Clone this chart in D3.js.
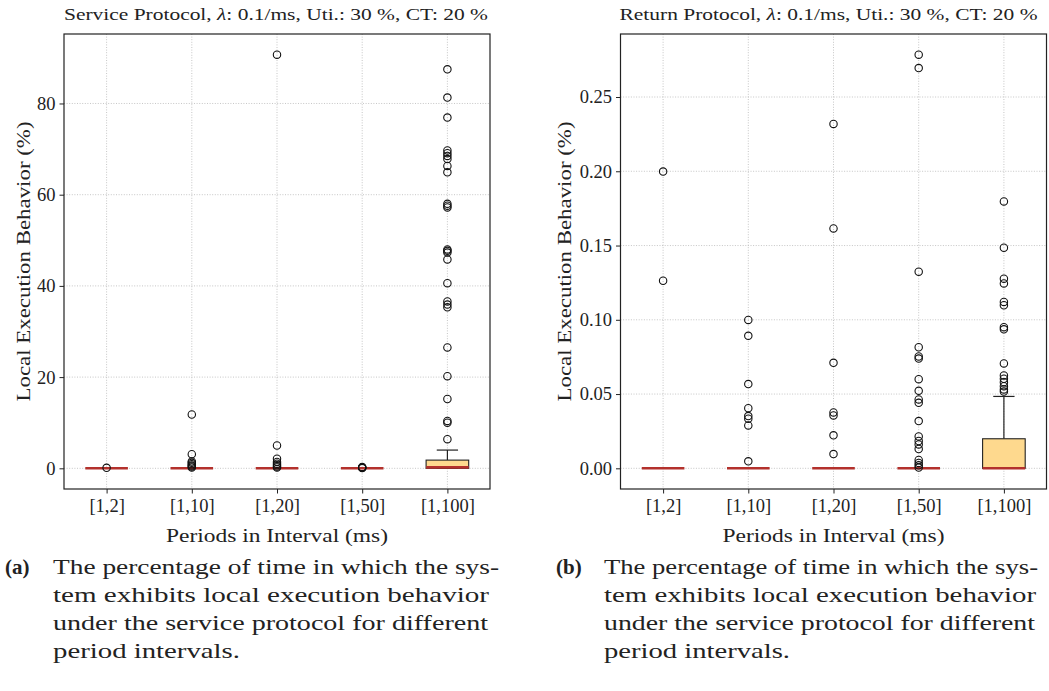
<!DOCTYPE html>
<html>
<head>
<meta charset="utf-8">
<script src="https://cdn.jsdelivr.net/npm/d3@7"></script>
<style>
  body { margin: 0; background: #fff; }
  svg { display: block; }
  text { font-family: "Liberation Serif", "DejaVu Serif", serif; fill: #222; }
</style>
</head>
<body>
<div class="chart"></div>
<script>
// categories on the x axis
var cats = ["[1,2]", "[1,10]", "[1,20]", "[1,50]", "[1,100]"];

// Service protocol (left panel), box stats per category
var serviceQ1 = [0, 0, 0, 0, 0];
var serviceMed = [0, 0, 0, 0, 0.2];
var serviceQ3 = [0, 0, 0, 0, 1.8];
var serviceLo = [0, 0, 0, 0, 0];
var serviceHi = [0, 0, 0, 0, 4.0];
var serviceOut = [
  [0.1],
  [11.8, 3.1, 1.5, 1.2, 0.9, 0.6, 0.4, 0.2],
  [90.7, 5.0, 2.1, 1.4, 1.0, 0.7, 0.4, 0.2],
  [0.3, 0.2, 0.1, 0.05],
  [87.5, 81.3, 76.9, 69.7, 69.1, 68.5, 67.8, 66.3, 64.9, 58.0, 57.6, 57.2,
   48.0, 47.7, 47.3, 45.8, 40.6, 36.6, 35.9, 35.3, 26.5, 20.2, 15.2, 10.4, 10.0, 6.4]
];
var serviceTicks = [0, 20, 40, 60, 80];

// Return protocol (right panel)
var returnQ1 = [0, 0, 0, 0, 0];
var returnMed = [0, 0, 0, 0, 0];
var returnQ3 = [0, 0, 0, 0, 0.0199];
var returnLo = [0, 0, 0, 0, 0];
var returnHi = [0, 0, 0, 0, 0.0484];
var returnOut = [
  [0.1998, 0.1263],
  [0.0999, 0.0892, 0.0567, 0.0405, 0.0352, 0.0334, 0.0289, 0.0047],
  [0.2319, 0.1615, 0.0710, 0.0376, 0.0356, 0.0222, 0.0096],
  [0.2785, 0.2695, 0.1324, 0.0815, 0.0753, 0.0739, 0.0600, 0.0522, 0.0464, 0.0441,
   0.0318, 0.0215, 0.0184, 0.0161, 0.0130, 0.0056, 0.0036, 0.0020, 0.0005],
  [0.1797, 0.1485, 0.1277, 0.1245, 0.1120, 0.1098, 0.0950, 0.0936, 0.0706, 0.0625,
   0.0603, 0.0580, 0.0553, 0.0531, 0.0517]
];
var returnTicks = [0, 0.05, 0.10, 0.15, 0.20, 0.25];

var captionLines = [
  "The percentage of time in which the sys-",
  "tem exhibits local execution behavior",
  "under the service protocol for different",
  "period intervals."
];

var svgWidth = 1049;
var svgHeight = 691;

var svg = d3.select(".chart")
  .append("svg")
  .attr("width", svgWidth)
  .attr("height", svgHeight);

var plotTop = 34, plotBottom = 489;
var boxColor = "#fed98e";
var medColor = "#b3312c";

function drawPanel(p) {
  var g = svg.append("g");

  var x = d3.scaleLinear().domain([0.5, cats.length + 0.5]).range([p.left, p.right]);

  // matplotlib style 5% margins around all data
  var all = [];
  p.out.forEach(function(o) { all = all.concat(o); });
  all = all.concat(p.hi, p.lo);
  var ext = d3.extent(all);
  var pad = (ext[1] - ext[0]) * 0.05;
  var y = d3.scaleLinear().domain([ext[0] - pad, ext[1] + pad]).range([plotBottom, plotTop]);

  var idx = d3.range(1, cats.length + 1);

  // grid
  g.selectAll(".gx").data(idx).enter().append("line")
    .attr("x1", d => x(d)).attr("x2", d => x(d))
    .attr("y1", plotTop).attr("y2", plotBottom)
    .attr("stroke", "#b8b8b8").attr("stroke-width", 0.8)
    .attr("stroke-dasharray", "1,1.6");
  g.selectAll(".gy").data(p.ticks).enter().append("line")
    .attr("x1", p.left).attr("x2", p.right)
    .attr("y1", d => y(d)).attr("y2", d => y(d))
    .attr("stroke", "#b8b8b8").attr("stroke-width", 0.8)
    .attr("stroke-dasharray", "1,1.6");

  var bw = (x(1.25) - x(0.75));
  var cw = bw / 2;

  idx.forEach(function(d, i) {
    var cx = x(d);
    // whiskers
    g.append("line").attr("x1", cx).attr("x2", cx)
      .attr("y1", y(p.q3[i])).attr("y2", y(p.hi[i]))
      .attr("stroke", "#222").attr("stroke-width", 1.2);
    g.append("line").attr("x1", cx).attr("x2", cx)
      .attr("y1", y(p.q1[i])).attr("y2", y(p.lo[i]))
      .attr("stroke", "#222").attr("stroke-width", 1.2);
    // caps
    [p.hi[i], p.lo[i]].forEach(function(v) {
      g.append("line").attr("x1", cx - cw / 2).attr("x2", cx + cw / 2)
        .attr("y1", y(v)).attr("y2", y(v))
        .attr("stroke", "#222").attr("stroke-width", 1.2);
    });
    // box
    g.append("rect")
      .attr("x", cx - bw / 2).attr("width", bw)
      .attr("y", y(p.q3[i])).attr("height", y(p.q1[i]) - y(p.q3[i]))
      .attr("fill", boxColor).attr("stroke", "#222").attr("stroke-width", 1.1);
    // median
    g.append("line").attr("x1", cx - bw / 2).attr("x2", cx + bw / 2)
      .attr("y1", y(p.med[i])).attr("y2", y(p.med[i]))
      .attr("stroke", medColor).attr("stroke-width", 2.6);
    // outliers
    g.selectAll(null).data(p.out[i]).enter().append("circle")
      .attr("cx", cx).attr("cy", v => y(v)).attr("r", 3.7)
      .attr("fill", "none").attr("stroke", "#111").attr("stroke-width", 1.1);
  });

  // frame
  g.append("rect").attr("x", p.left).attr("y", plotTop)
    .attr("width", p.right - p.left).attr("height", plotBottom - plotTop)
    .attr("fill", "none").attr("stroke", "#222").attr("stroke-width", 1.2);

  // axes
  var xAxis = d3.axisBottom(x).tickValues(idx).tickSize(4.5).tickPadding(5)
    .tickFormat(d => cats[d - 1]);
  var yAxis = d3.axisLeft(y).tickValues(p.ticks).tickSize(4.5).tickPadding(4)
    .tickFormat(p.fmt);

  var ga = g.append("g").attr("transform", `translate(0, ${plotBottom})`).call(xAxis);
  var gb = g.append("g").attr("transform", `translate(${p.left}, 0)`).call(yAxis);
  [ga, gb].forEach(function(a) {
    a.select(".domain").remove();
    a.selectAll("line").attr("stroke", "#222").attr("stroke-width", 1);
    a.selectAll("text").attr("font-size", 18.5).attr("fill", "#333")
      .style("font-family", '"Liberation Serif", serif');
  });

  // title
  var t = g.append("text")
    .attr("x", (p.left + p.right) / 2 + p.titleDx).attr("y", 20)
    .attr("text-anchor", "middle").attr("font-size", 17)
    .attr("textLength", p.titleLen).attr("lengthAdjust", "spacingAndGlyphs");
  t.append("tspan").text(p.name + " Protocol, ");
  t.append("tspan").attr("font-style", "italic").text("λ");
  t.append("tspan").text(": 0.1/ms, Uti.: 30 %, CT: 20 %");

  // axis labels
  g.append("text")
    .attr("transform", `translate(${p.ylabX}, ${(plotTop + plotBottom) / 2}) rotate(-90)`)
    .attr("text-anchor", "middle").attr("font-size", 19.5)
    .attr("textLength", 280).attr("lengthAdjust", "spacingAndGlyphs")
    .text("Local Execution Behavior (%)");
  g.append("text")
    .attr("x", (p.left + p.right) / 2).attr("y", 542)
    .attr("text-anchor", "middle").attr("font-size", 19.5)
    .attr("textLength", 222).attr("lengthAdjust", "spacingAndGlyphs")
    .text("Periods in Interval (ms)");

  // caption
  g.append("text").attr("x", p.capX).attr("y", 574)
    .attr("font-size", 21).attr("font-weight", "bold").attr("fill", "#111")
    .text(p.letter);
  captionLines.forEach(function(line, i) {
    g.append("text").attr("x", p.capX + 48).attr("y", 574 + i * 28)
      .attr("font-size", 21).attr("fill", "#111")
      .attr("textLength", p.capLens[i]).attr("lengthAdjust", "spacingAndGlyphs")
      .text(line);
  });
}

drawPanel({
  name: "Service", left: 64, right: 490,
  q1: serviceQ1, med: serviceMed, q3: serviceQ3, lo: serviceLo, hi: serviceHi,
  out: serviceOut, ticks: serviceTicks, fmt: d3.format("d"),
  titleLen: 424, titleDx: -1, ylabX: 30,
  letter: "(a)", capX: 5, capLens: [446, 436, 435, 187]
});

drawPanel({
  name: "Return", left: 620.5, right: 1046.5,
  q1: returnQ1, med: returnMed, q3: returnQ3, lo: returnLo, hi: returnHi,
  out: returnOut, ticks: returnTicks, fmt: d3.format(".2f"),
  titleLen: 418, titleDx: -5, ylabX: 571,
  letter: "(b)", capX: 556, capLens: [434, 432, 431, 186]
});
</script>
</body>
</html>
